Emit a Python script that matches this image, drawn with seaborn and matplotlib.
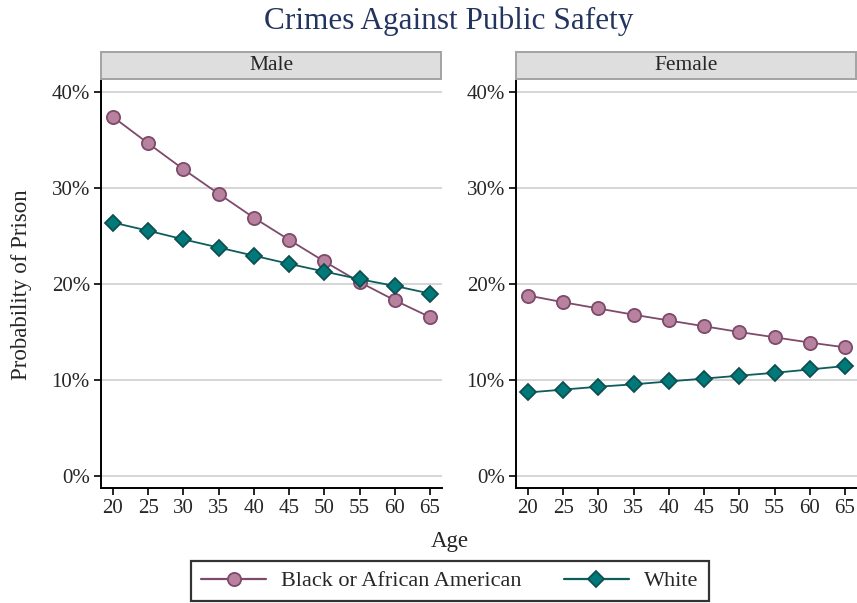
import numpy as np
import pandas as pd
import matplotlib
matplotlib.use("Agg")
import matplotlib.pyplot as plt
from matplotlib.lines import Line2D
import seaborn as sns

# ---- data -------------------------------------------------------------
ages = [20, 25, 30, 35, 40, 45, 50, 55, 60, 65]
panels = ["Male", "Female"]
races = ["Black or African American", "White"]

male_black = [37.4, 34.65, 31.95, 29.4, 26.9, 24.6, 22.35, 20.2, 18.3, 16.55]
male_white = [26.4, 25.55, 24.65, 23.8, 22.95, 22.1, 21.3, 20.5, 19.8, 19.0]
female_black = [18.8, 18.1, 17.45, 16.8, 16.2, 15.6, 15.0, 14.45, 13.9, 13.4]
female_white = [8.7, 9.0, 9.3, 9.55, 9.85, 10.15, 10.45, 10.75, 11.1, 11.45]

yticks = [0, 10, 20, 30, 40]

values = {
    ("Male", races[0]): male_black,
    ("Male", races[1]): male_white,
    ("Female", races[0]): female_black,
    ("Female", races[1]): female_white,
}
rows = []
for (sex, race), vals in values.items():
    for a, v in zip(ages, vals):
        rows.append({"Sex": sex, "Race": race, "Age": a, "Prob": v})
df = pd.DataFrame(rows)

# ---- styling ------------------------------------------------------------
sns.set_style("white")
plt.rcParams["font.family"] = ["Liberation Serif", "DejaVu Serif"]

styles = {
    races[0]: dict(color="#7d4a6b", marker="o", markerfacecolor="#b8829f",
                   markeredgecolor="#7d4a6b", markersize=9.5),
    races[1]: dict(color="#0f5c5c", marker="D", markerfacecolor="#00797a",
                   markeredgecolor="#0f4f50", markersize=8),
}

W, H = 857, 603
fig = plt.figure(figsize=(W / 100, H / 100), dpi=100)

def frac_box(x0, y0, x1, y1):
    return [x0 / W, 1 - y1 / H, (x1 - x0) / W, (y1 - y0) / H]

axes_px = {"Male": (101, 80, 442, 488), "Female": (516, 80, 857, 488)}

for sex in panels:
    x0, y0, x1, y1 = axes_px[sex]
    ax = fig.add_axes(frac_box(x0, y0, x1, y1))
    sub = df[df["Sex"] == sex]
    for race in races:
        sns.lineplot(data=sub[sub["Race"] == race], x="Age", y="Prob", ax=ax,
                     linewidth=1.3, markeredgewidth=1.3, legend=False,
                     **styles[race])
    ax.set_xlim(18.3, 66.7)
    ax.set_ylim(-1.25, 41.25)
    ax.set_xticks(ages)
    ax.set_yticks(yticks)
    ax.set_yticklabels([f"{t}%" for t in yticks])
    ax.set_xlabel("")
    ax.set_ylabel("")
    ax.yaxis.grid(True, color="#d2d2d2", linewidth=1.3)
    ax.set_axisbelow(True)
    for s in ["top", "right"]:
        ax.spines[s].set_visible(False)
    for s in ["left", "bottom"]:
        ax.spines[s].set_color("black")
        ax.spines[s].set_linewidth(1.4)
    ax.tick_params(axis="both", which="major", length=5, width=1.2,
                   color="black", labelsize=15, direction="out", pad=3,
                   left=True, bottom=True)

    # facet strip
    sax = fig.add_axes(frac_box(x0, 52, x1 - 1, 79))
    sax.set_facecolor("#dedede")
    sax.set_xticks([])
    sax.set_yticks([])
    for s in sax.spines.values():
        s.set_color("#a3a3a3")
        s.set_linewidth(1.4)
    sax.text(0.5, 0.5, sex, ha="center", va="center", fontsize=15.5,
             transform=sax.transAxes)

fig.text(449 / W, 1 - 21 / H, "Crimes Against Public Safety", ha="center",
         va="center", fontsize=22.5, color="#22345f")
fig.text(22 / W, 1 - 285 / H, "Probability of Prison", ha="center",
         va="center", rotation=90, fontsize=16.5)
fig.text(450 / W, 1 - 541 / H, "Age", ha="center", va="center", fontsize=16.5)

handles = [Line2D([], [], linewidth=1.6, markeredgewidth=1.3, **styles[r])
           for r in races]
leg = fig.legend(handles, races, loc="center", ncol=2,
                 bbox_to_anchor=(450 / W, 1 - 581 / H), frameon=True,
                 fancybox=False, fontsize=16, handlelength=2.9,
                 columnspacing=1.9, handletextpad=0.7, borderpad=0.45,
                 borderaxespad=0)
leg.get_frame().set_edgecolor("black")
leg.get_frame().set_linewidth(1.6)

fig.savefig("out.png", dpi=100)
